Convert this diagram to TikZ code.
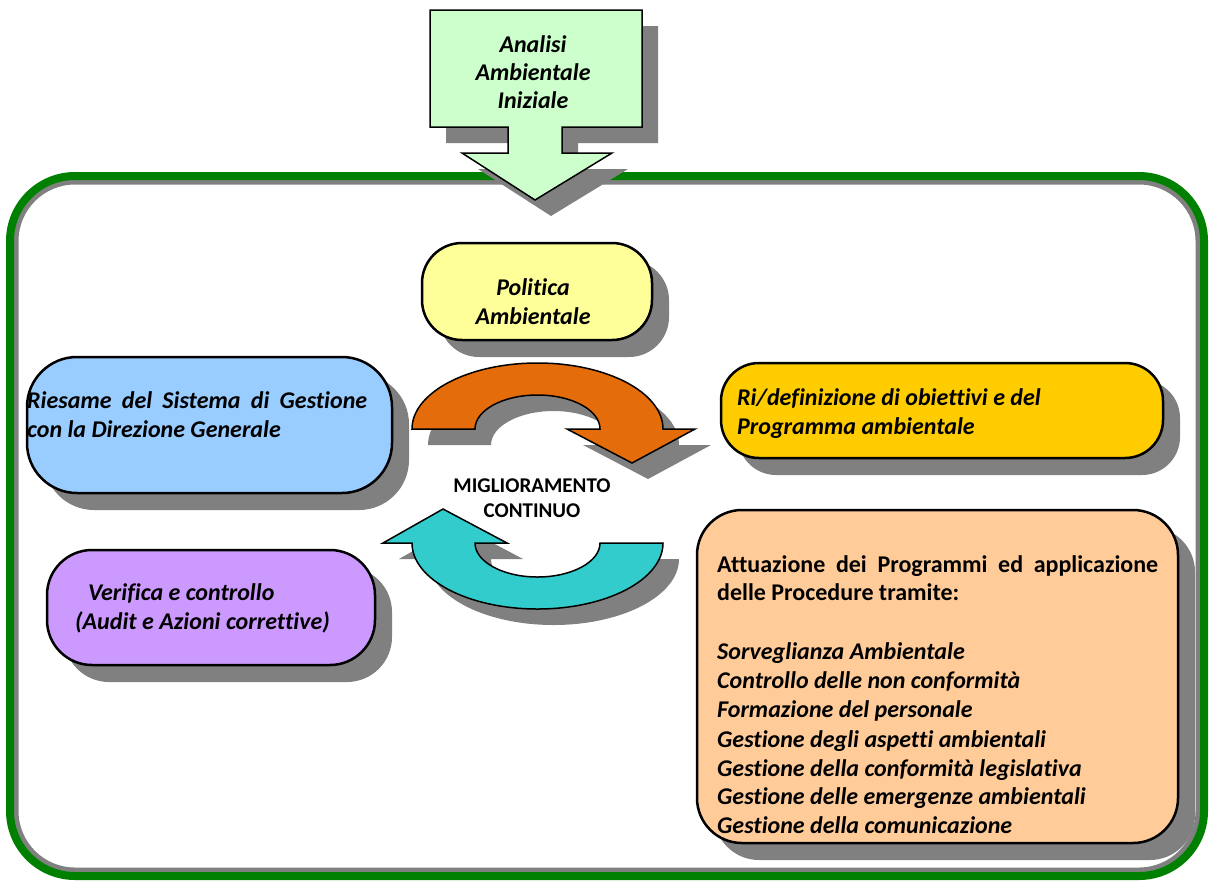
\documentclass[tikz,border=0pt]{standalone}
\usepackage{fontspec}
\setmainfont[Ligatures=NoCommon]{Carlito}
\usetikzlibrary{shadows}
\definecolor{framegreen}{HTML}{008000}
\definecolor{shadowgray}{HTML}{808080}
\definecolor{anc}{HTML}{CCFFCC}
\definecolor{polc}{HTML}{FFFF99}
\definecolor{riec}{HTML}{99CCFF}
\definecolor{defc}{HTML}{FFCC00}
\definecolor{attc}{HTML}{FFCC99}
\definecolor{verc}{HTML}{CC99FF}
\definecolor{orac}{HTML}{E46C0A}
\definecolor{teac}{HTML}{33CCCC}
\begin{document}
\begin{tikzpicture}[x=1pt,y=-1pt,
  shad/.style={drop shadow={shadow xshift=17pt,shadow yshift=-17pt,fill=shadowgray,opacity=1}},
  shadsm/.style={drop shadow={shadow xshift=16pt,shadow yshift=-16pt,fill=shadowgray,opacity=1}},
  box/.style={draw=black,line width=2.5pt,rounded corners=#1,shad,inner sep=0pt},
  bigarrow/.style={draw=black,line width=1.5pt,line join=miter,shadsm},
  txt/.style={font=\fontsize{24}{29}\selectfont\bfseries\itshape,inner sep=0pt},
  txtup/.style={font=\fontsize{24}{29}\selectfont\bfseries,inner sep=0pt},
  txtsm/.style={font=\fontsize{21}{25}\selectfont\bfseries,inner sep=0pt}]
\useasboundingbox (0,0) rectangle (1209,884);
% frame
\draw[shadowgray,line width=5pt,rounded corners=59pt] (16,182) rectangle (1198,870);
\draw[framegreen,line width=8pt,rounded corners=65pt] (10,176) rectangle (1204,876);
% initial analysis arrow
\draw[bigarrow,fill=anc] (430,10) -- (642,10) -- (642,127) -- (562,127) -- (562,153)
  -- (612,153) -- (535,200) -- (462,153) -- (508,153) -- (508,127) -- (430,127) -- cycle;
\node[txt,anchor=base] (an1) at (533,52) {Analisi};
\node[txt,anchor=base] (an2) at (533,80) {Ambientale};
\node[txt,anchor=base] (an3) at (533,108) {Iniziale};
% boxes
\node[box=40pt,fill=polc,minimum width=230pt,minimum height=97pt] (pol) at (537,291.5) {};
\node[txt,anchor=base] (pol1) at (533,295) {Politica};
\node[txt,anchor=base] (pol2) at (533,324) {Ambientale};
\node[box=50pt,fill=riec,minimum width=365pt,minimum height=136pt] (rie) at (209.5,425) {};
\node[txt,anchor=base west] (rie1) at (27,408) {\makebox[340pt][s]{Riesame del Sistema di Gestione}};
\node[txt,anchor=base west] (rie2) at (27,437) {con la Direzione Generale};
\node[box=38pt,fill=defc,minimum width=442pt,minimum height=95pt] (def) at (942,410.5) {};
\node[txt,anchor=base west] (def1) at (737,405) {Ri/definizione di obiettivi e del};
\node[txt,anchor=base west] (def2) at (737,434) {Programma ambientale};
\node[box=45pt,fill=attc,minimum width=481pt,minimum height=333pt] (att) at (937.5,676.5) {};
\node[txtup,anchor=base west] (att1) at (717,572) {\makebox[441pt][s]{Attuazione dei Programmi ed applicazione}};
\node[txtup,anchor=base west] (att2) at (717,600) {delle Procedure tramite:};
\node[txt,anchor=base west] (att3) at (717,659) {Sorveglianza Ambientale};
\node[txt,anchor=base west] (att4) at (717,688) {Controllo delle non conformità};
\node[txt,anchor=base west] (att5) at (717,717) {Formazione del personale};
\node[txt,anchor=base west] (att6) at (717,747) {Gestione degli aspetti ambientali};
\node[txt,anchor=base west] (att7) at (717,776) {Gestione della conformità legislativa};
\node[txt,anchor=base west] (att8) at (717,804) {Gestione delle emergenze ambientali};
\node[txt,anchor=base west] (att9) at (717,833) {Gestione della comunicazione};
\node[box=45pt,fill=verc,minimum width=328pt,minimum height=115pt] (ver) at (211,607.5) {};
\node[txt,anchor=base west] (ver1) at (88,600) {Verifica e controllo};
\node[txt,anchor=base west] (ver2) at (75,629) {(Audit e Azioni correttive)};
% cycle arrows
\draw[bigarrow,fill=orac] (412,429) arc[start angle=180,end angle=360,x radius=125.5,y radius=66]
  -- (695,429) -- (632,463) -- (567,429) -- (600,429)
  arc[start angle=0,end angle=-180,x radius=62.5,y radius=34] -- cycle;
\draw[bigarrow,fill=teac] (663,543) arc[start angle=0,end angle=180,x radius=125.5,y radius=66]
  -- (383,543) -- (443,509) -- (507,543) -- (475,543)
  arc[start angle=180,end angle=0,x radius=62.5,y radius=34] -- cycle;
\node[txtsm,anchor=base] (mig1) at (532,492) {MIGLIORAMENTO};
\node[txtsm,anchor=base] (mig2) at (532,517) {CONTINUO};
\end{tikzpicture}
\end{document}
